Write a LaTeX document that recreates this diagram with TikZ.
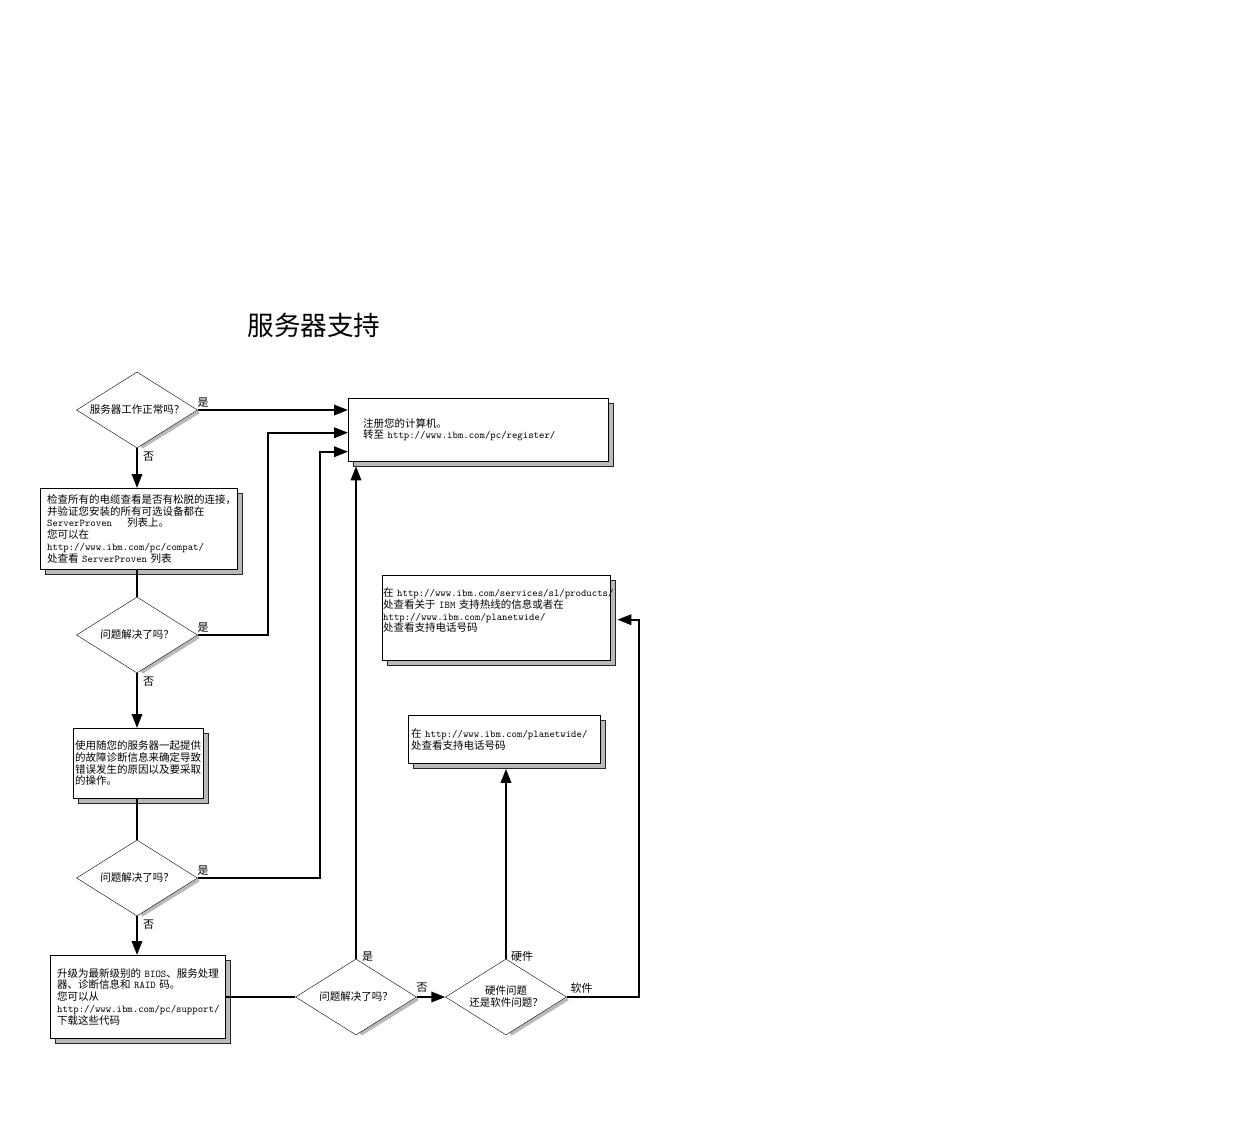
\documentclass[tikz,border=0pt]{standalone}
\usepackage{fontspec}
\setmainfont{Noto Sans CJK SC}
\usepackage{tikz}
\usetikzlibrary{shapes, arrows.meta, shadows, calc, backgrounds}
\newcommand{\web}[1]{{\ttfamily\fontsize{10.3}{11.8}\selectfont #1}}

\begin{document}
\begin{tikzpicture}[x=1pt, y=-1pt,
        decision/.style={diamond, draw, thin, shape aspect=1.6, minimum width=121pt, minimum height=76pt, inner sep=0pt, align=center, font=\fontsize{10.5}{12}\selectfont},
        infobox/.style={rectangle, draw, thin, fill=white, anchor=north west, align=left, inner ysep=0pt, font=\fontsize{10.5}{11.8}\selectfont, general shadow={shadow xshift=4.5pt, shadow yshift=-4.5pt, fill=gray!55, draw=black!85}},
        link/.style={line width=2pt},
        flow/.style={link, -{Triangle[length=14pt, width=10.5pt]}},
        answer/.style={font=\fontsize{11}{12}\selectfont, inner sep=0pt},
        dshade/.style={draw=gray!55, line width=3.5pt}
    ]
        \useasboundingbox (0,0) rectangle (1242,1120);

        \node[font=\fontsize{26.6}{30}\selectfont] (title) at (314,325) {服务器支持};

        \node[decision] (q1) at (137,410) {服务器工作正常吗？};
        \node[decision] (q2) at (137,635) {问题解决了吗？};
        \node[decision] (q3) at (137,878) {问题解决了吗？};
        \node[decision] (q4) at (356,997) {问题解决了吗？};
        \node[decision] (q5) at (506,997) {硬件问题\\还是软件问题？};

        \node[infobox, minimum width=260pt, minimum height=63pt, text width=230pt, inner xsep=15pt] (register) at (348,398) {注册您的计算机。\\转至~\web{http://www.ibm.com/pc/register/}};
        \node[infobox, minimum width=197pt, minimum height=81pt, text width=183pt, inner xsep=7pt] (cables) at (40,488) {检查所有的电缆查看是否有松脱的连接，\\并验证您安装的所有可选设备都在\\\web{ServerProven}\hspace{15pt}列表上。\\您可以在\\\web{http://www.ibm.com/pc/compat/}\\处查看~\web{ServerProven}~列表};
        \node[infobox, minimum width=130pt, minimum height=70pt, text width=126pt, inner xsep=2pt] (diag) at (73,728) {使用随您的服务器一起提供\\的故障诊断信息来确定导致\\错误发生的原因以及要采取\\的操作。};
        \node[infobox, minimum width=175pt, minimum height=83pt, text width=161pt, inner xsep=7pt] (upgrade) at (50,955) {升级为最新级别的~\web{BIOS}、服务处理\\器、诊断信息和~\web{RAID}~码。\\您可以从\\\web{http://www.ibm.com/pc/support/}\\下载这些代码};
        \node[infobox, minimum width=228pt, minimum height=85pt, text width=226pt, inner xsep=1pt] (hotline) at (382,575) {在~\web{http://www.ibm.com/services/sl/products/}\\处查看关于~\web{IBM}~支持热线的信息或者在\\\web{http://www.ibm.com/planetwide/}\\处查看支持电话号码\\[4pt]\mbox{}};
        \node[infobox, minimum width=192pt, minimum height=48pt, text width=186pt, inner xsep=3pt] (phone) at (408,715) {在~\web{http://www.ibm.com/planetwide/}\\处查看支持电话号码};

        \begin{scope}[on background layer]
            \foreach \q in {q1,q2,q3,q4,q5}
                \draw[dshade] ($(\q.east)+(1,1.8)$) -- ($(\q.south)+(4.5,-1)$);
        \end{scope}

        \draw[flow] (q1.east) -- node[answer, pos=0, anchor=south west, xshift=-1pt, yshift=2pt] {是} (q1.east -| register.west);
        \draw[flow] (q1.south) -- node[answer, pos=0, anchor=north west, xshift=5pt, yshift=-3pt] {否} (q1.south |- cables.north);
        \draw[link] (q2.north |- cables.south) -- (q2.north);
        \draw[flow] (q2.east) -- node[answer, pos=0, anchor=south west, xshift=-1pt, yshift=2pt] {是} ++(70.5,0) |- ([yshift=-3pt]register.west);
        \draw[flow] (q2.south) -- node[answer, pos=0, anchor=north west, xshift=5pt, yshift=-3pt] {否} (q2.south |- diag.north);
        \draw[link] (q3.north |- diag.south) -- (q3.north);
        \draw[flow] (q3.east) -- node[answer, pos=0, anchor=south west, xshift=-1pt, yshift=2pt] {是} ++(122.5,0) |- ([yshift=-22pt]register.west);
        \draw[flow] (q3.south) -- node[answer, pos=0, anchor=north west, xshift=5pt, yshift=-3pt] {否} (q3.south |- upgrade.north);
        \draw[link] (upgrade.east |- q4.west) -- (q4.west);
        \draw[flow, shorten >=5pt] (q4.north) -- node[answer, pos=0, anchor=west, xshift=5pt, yshift=2pt] {是} (q4.north |- register.south);
        \draw[flow] (q4.east) -- node[answer, pos=0, anchor=south west, xshift=-1pt, yshift=4pt] {否} (q5.west);
        \draw[flow, shorten >=5.5pt] (q5.north) -- node[answer, pos=0, anchor=west, xshift=4pt, yshift=2pt] {硬件} (q5.north |- phone.south);
        \draw[flow, shorten >=7pt] (q5.east) -- node[answer, pos=0, anchor=south west, xshift=3pt, yshift=3pt] {软件} ++(72,0) |- ([yshift=-2pt]hotline.east);
    \end{tikzpicture}
\end{document}
